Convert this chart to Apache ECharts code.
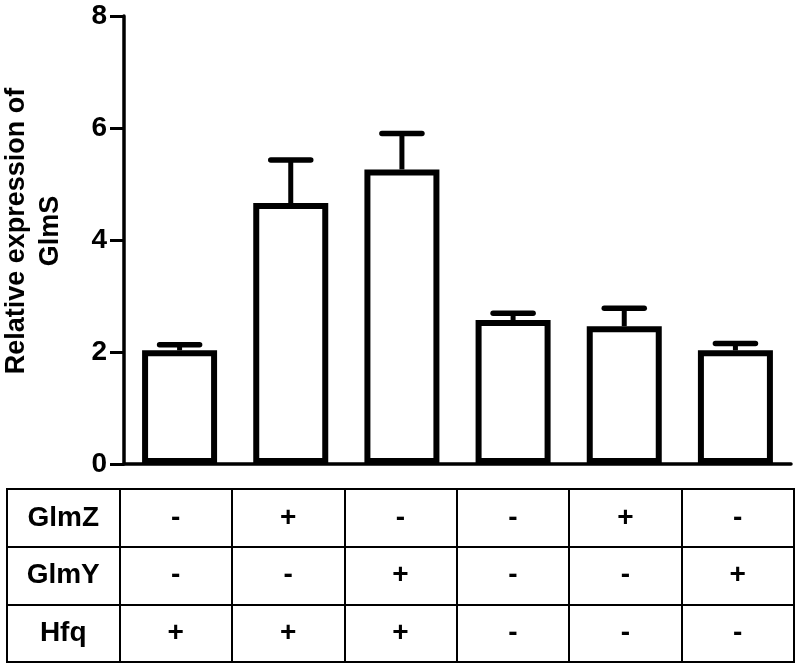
<!DOCTYPE html>
<html>
<head>
<meta charset="utf-8">
<script src="https://cdn.jsdelivr.net/npm/echarts@6/dist/echarts.min.js"></script>
<style>
  html, body { margin: 0; padding: 0; background: #fff; }
  #chart { width: 800px; height: 668px; }
</style>
</head>
<body>
<div id="chart"></div>
<script>
// conditions (one per bar)
var categories = ['c1', 'c2', 'c3', 'c4', 'c5', 'c6'];
var means = [2.03, 4.66, 5.26, 2.57, 2.46, 2.03];
var errTop = [2.13, 5.43, 5.90, 2.69, 2.78, 2.15];
var yTicks = [0, 2, 4, 6, 8];

// table below the chart
var rowNames = ['GlmZ', 'GlmY', 'Hfq'];
var glmZ = ['-', '+', '-', '-', '+', '-'];
var glmY = ['-', '-', '+', '-', '-', '+'];
var hfq = ['+', '+', '+', '-', '-', '-'];

var FAMILY = '"Liberation Sans", Arial, sans-serif';
var FONT = 'bold 28px ' + FAMILY;

var tableCols = ['label'].concat(categories);
var tableRows = [glmZ, glmY, hfq];
var cells = [];
for (var r = 0; r < rowNames.length; r++) {
  cells.push([0, r, rowNames[r]]);
  for (var c = 0; c < categories.length; c++) {
    cells.push([c + 1, r, tableRows[r][c]]);
  }
}

var errData = [];
for (var i = 0; i < categories.length; i++) {
  errData.push([i, means[i], errTop[i]]);
}

var chart = echarts.init(document.getElementById('chart'));
chart.setOption({
  backgroundColor: '#fff',
  animation: false,
  grid: [
    { left: 124, top: 16, width: 667, height: 448 },
    { left: 7, top: 489, width: 787, height: 173,
      show: true, borderColor: '#000', borderWidth: 2, backgroundColor: '#fff' }
  ],
  graphic: [{
    type: 'text',
    x: 34, y: 231,
    rotation: Math.PI / 2,
    style: {
      text: 'Relative expression of\nGlmS',
      font: 'bold 27px ' + FAMILY,
      lineHeight: 34,
      fill: '#000',
      textAlign: 'center',
      textVerticalAlign: 'middle'
    }
  }],
  xAxis: [{
    gridIndex: 0,
    type: 'category',
    data: categories,
    axisLine: { lineStyle: { color: '#000', width: 3.5 } },
    axisTick: { alignWithLabel: true, length: 14, lineStyle: { color: '#000', width: 3 } },
    axisLabel: { show: false },
    splitLine: { show: false }
  }, {
    gridIndex: 1,
    type: 'category',
    data: tableCols,
    axisLine: { show: false },
    axisTick: { show: false },
    axisLabel: { show: false },
    splitLine: { show: true, lineStyle: { color: '#000', width: 2 } }
  }],
  yAxis: [{
    gridIndex: 0,
    type: 'value',
    min: yTicks[0],
    max: yTicks[yTicks.length - 1],
    interval: 2,
    axisLine: { show: true, lineStyle: { color: '#000', width: 3.5 } },
    axisTick: { show: true, length: 14, lineStyle: { color: '#000', width: 3 } },
    axisLabel: { margin: 17, color: '#000', fontSize: 28, fontWeight: 'bold',
      fontFamily: FAMILY },
    splitLine: { show: false }
  }, {
    gridIndex: 1,
    type: 'category',
    data: rowNames,
    inverse: true,
    axisLine: { show: false },
    axisTick: { show: false },
    axisLabel: { show: false },
    splitLine: { show: true, lineStyle: { color: '#000', width: 2 } }
  }],
  series: [{
    type: 'custom',
    name: 'error',
    xAxisIndex: 0,
    yAxisIndex: 0,
    data: errData,
    z: 1,
    renderItem: function (params, api) {
      var base = api.coord([api.value(0), api.value(1)]);
      var top = api.coord([api.value(0), api.value(2)]);
      var half = 20;
      return {
        type: 'group',
        children: [{
          type: 'line',
          shape: { x1: base[0], y1: base[1], x2: top[0], y2: top[1] },
          style: { stroke: '#000', lineWidth: 5 }
        }, {
          type: 'line',
          shape: { x1: top[0] - half, y1: top[1], x2: top[0] + half, y2: top[1] },
          style: { stroke: '#000', lineWidth: 5.5, lineCap: 'round' }
        }]
      };
    }
  }, {
    type: 'bar',
    name: 'GlmS',
    xAxisIndex: 0,
    yAxisIndex: 0,
    data: means,
    barWidth: 75,
    z: 2,
    itemStyle: { color: '#fff', borderColor: '#000', borderWidth: 6 }
  }, {
    type: 'custom',
    name: 'table',
    xAxisIndex: 1,
    yAxisIndex: 1,
    data: cells,
    renderItem: function (params, api) {
      var p = api.coord([api.value(0), api.value(1)]);
      return {
        type: 'text',
        style: {
          x: p[0], y: p[1],
          text: cells[params.dataIndex][2],
          font: FONT,
          fill: '#000',
          textAlign: 'center',
          textVerticalAlign: 'middle'
        }
      };
    }
  }]
});
</script>
</body>
</html>
